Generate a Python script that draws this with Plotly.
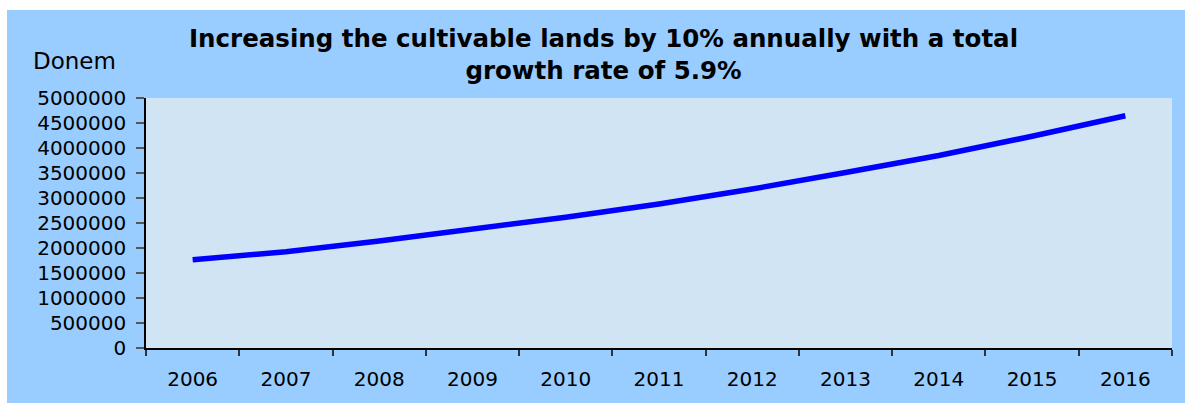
import plotly.graph_objects as go

years = ["2006", "2007", "2008", "2009", "2010", "2011", "2012", "2013", "2014", "2015", "2016"]
area_donem = [1765000, 1925000, 2140000, 2375000, 2615000, 2880000, 3180000, 3510000, 3850000, 4235000, 4645000]
y_ticks = list(range(0, 5000001, 500000))

W, H = 1185, 403
L, R, T, B = 146, 1172, 98, 351
pw, ph = R - L, B - T

def px(x):
    return (x - L) / pw

def py(y):
    return (B - y) / ph

FONT = "DejaVu Sans, Liberation Sans, Arial"

fig = go.Figure()
fig.add_trace(go.Scatter(
    x=years, y=area_donem, mode="lines",
    line=dict(color="#0000FF", width=5.5),
    hoverinfo="x+y", showlegend=False,
))

fig.update_layout(
    width=W, height=H,
    margin=dict(l=L, r=W - R, t=T, b=H - B, pad=0),
    paper_bgcolor="white",
    plot_bgcolor="#D0E4F3",
    font=dict(family=FONT, color="black", size=20),
    showlegend=False,
    shapes=[
        dict(type="rect", xref="paper", yref="paper", layer="below",
             x0=px(7), x1=px(W + 5), y0=py(H + 5), y1=py(9),
             fillcolor="#99CCFF", line=dict(width=0)),
        dict(type="rect", xref="paper", yref="paper", layer="below",
             x0=0, x1=1, y0=0, y1=1,
             fillcolor="#D0E4F3", line=dict(width=0)),
    ],
    annotations=[
        dict(text="<b>Increasing the cultivable lands by 10% annually with a total<br>growth rate of 5.9%</b>",
             xref="paper", yref="paper", x=px(603), y=py(54), xanchor="center", yanchor="middle",
             showarrow=False, align="center",
             font=dict(family=FONT, size=24.5, color="black")),
        dict(text="Donem", xref="paper", yref="paper", x=px(74), y=py(61),
             xanchor="center", yanchor="middle", showarrow=False,
             font=dict(family=FONT, size=23, color="black")),
    ],
)

fig.update_xaxes(
    type="category", range=[-0.5, 10.5],
    showline=True, linecolor="black", linewidth=1.5, mirror=False,
    ticks="outside", tickson="boundaries", ticklen=6, tickcolor="#333333", tickwidth=1.5,
    showgrid=False, zeroline=False,
    tickfont=dict(size=20), ticklabelstandoff=12,
)
fig.update_yaxes(
    range=[0, 5000000], tickvals=y_ticks, ticktext=[str(v) for v in y_ticks],
    showline=True, linecolor="black", linewidth=1.5,
    ticks="outside", ticklen=8, tickcolor="#555555", tickwidth=1.5,
    showgrid=False, zeroline=False,
    tickfont=dict(size=20), ticklabelstandoff=6,
)

fig.write_html("out.html", config={"displayModeBar": False},
               post_script="document.body.style.margin='0';document.body.style.overflow='hidden';")
